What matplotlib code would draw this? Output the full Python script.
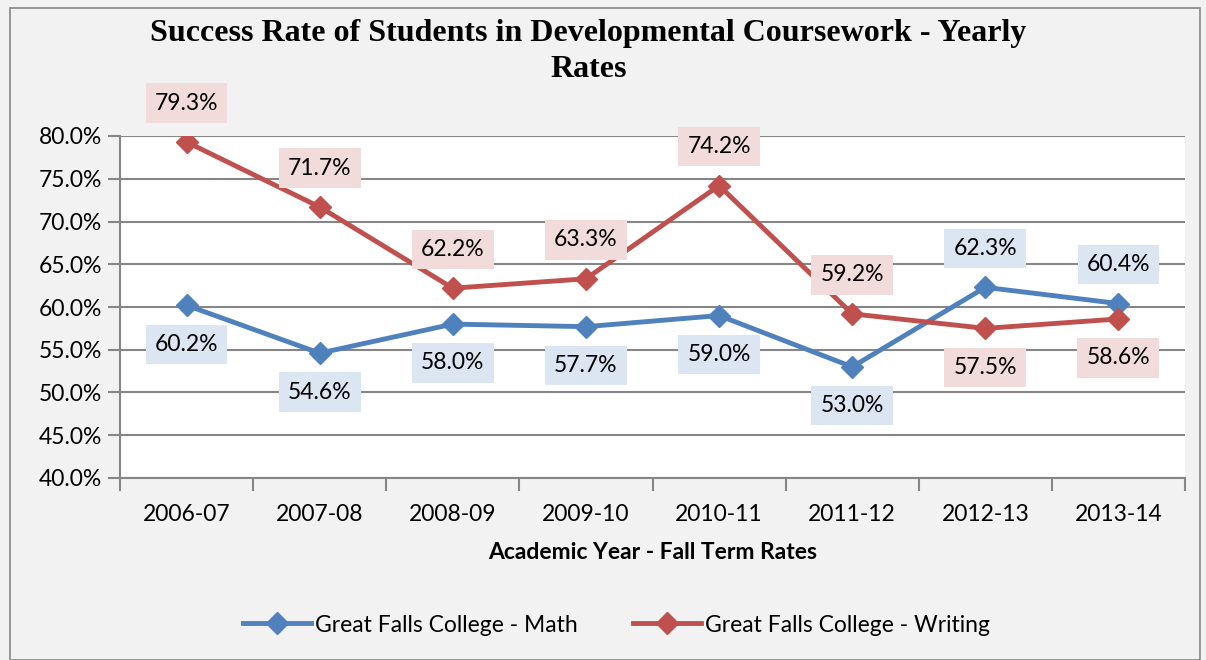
import matplotlib
matplotlib.use("Agg")
import matplotlib.pyplot as plt
from matplotlib.patches import Rectangle
from matplotlib.ticker import FuncFormatter

# data (percent)
years = ["2006-07", "2007-08", "2008-09", "2009-10", "2010-11", "2011-12", "2012-13", "2013-14"]
math_rate = [60.2, 54.6, 58.0, 57.7, 59.0, 53.0, 62.3, 60.4]
writing_rate = [79.3, 71.7, 62.2, 63.3, 74.2, 59.2, 57.5, 58.6]
math_label_side = [-1, -1, -1, -1, -1, -1, 1, 1]      # 1 = above, -1 = below
writing_label_side = [1, 1, 1, 1, 1, 1, -1, -1]

blue = "#4f81bd"
red = "#c0504d"
bg = "#f2f2f2"
grid_col = "#868686"
fs = 16.5

plt.rcParams['font.family'] = ['Lato', 'DejaVu Sans']

fig = plt.figure(figsize=(12.06, 6.6), dpi=100, facecolor=bg)
fig.patches.append(Rectangle((10 / 1206, 0), 1190 / 1206, 652 / 660, transform=fig.transFigure,
                             fill=False, edgecolor=grid_col, linewidth=1.2))

ax = fig.add_axes([120 / 1206, 182 / 660, 1065 / 1206, 342 / 660])
ax.set_facecolor("white")

x = list(range(len(years)))
ax.plot(x, math_rate, color=blue, lw=3.5, marker="D", ms=11, label="Great Falls College - Math", zorder=3)
ax.plot(x, writing_rate, color=red, lw=3.5, marker="D", ms=11, label="Great Falls College - Writing", zorder=3)

for i in x:
    ax.annotate(f"{math_rate[i]:.1f}%", (i, math_rate[i]), xytext=(0, 28 * math_label_side[i]),
                textcoords="offset points", ha="center", va="center", fontsize=fs, zorder=5,
                bbox=dict(boxstyle="square,pad=0.4", fc="#dce6f2", ec="none"), annotation_clip=False)
    ax.annotate(f"{writing_rate[i]:.1f}%", (i, writing_rate[i]), xytext=(0, 28 * writing_label_side[i]),
                textcoords="offset points", ha="center", va="center", fontsize=fs, zorder=5,
                bbox=dict(boxstyle="square,pad=0.4", fc="#f2dcdb", ec="none"), annotation_clip=False)

ax.set_ylim(40, 80)
ax.set_yticks([40 + 5 * k for k in range(9)])
ax.yaxis.set_major_formatter(FuncFormatter(lambda v, p: f"{v:.1f}%"))
ax.set_xlim(-0.5, len(years) - 0.5)
ax.set_xticks(x)
ax.set_xticklabels(years)
ax.set_xticks([i - 0.5 for i in range(len(years) + 1)], minor=True)
ax.tick_params(axis="x", which="major", length=0, pad=19, labelsize=fs)
ax.tick_params(axis="x", which="minor", length=9, width=1.5, color=grid_col)
ax.tick_params(axis="y", length=9, width=1.5, color=grid_col, labelsize=fs, pad=4)
ax.grid(axis="y", color=grid_col, lw=1.5)
ax.set_axisbelow(True)
for s in ["top", "right"]:
    ax.spines[s].set_visible(False)
for s in ["left", "bottom"]:
    ax.spines[s].set_color(grid_col)
    ax.spines[s].set_linewidth(1.5)

ax.set_xlabel("Academic Year - Fall Term Rates", fontsize=fs, fontweight="bold", labelpad=12)

fig.text(0.488, 0.922, "Success Rate of Students in Developmental Coursework - Yearly\nRates",
         ha="center", va="center", fontsize=23, fontweight="bold", family="Liberation Serif", linespacing=1.3)

fig.legend(loc="center", bbox_to_anchor=(0.511, 0.053), ncol=2, frameon=False, fontsize=fs,
           handlelength=3.0, columnspacing=2.4, handletextpad=0.15)

fig.savefig("out.png", dpi=100, facecolor=bg)
